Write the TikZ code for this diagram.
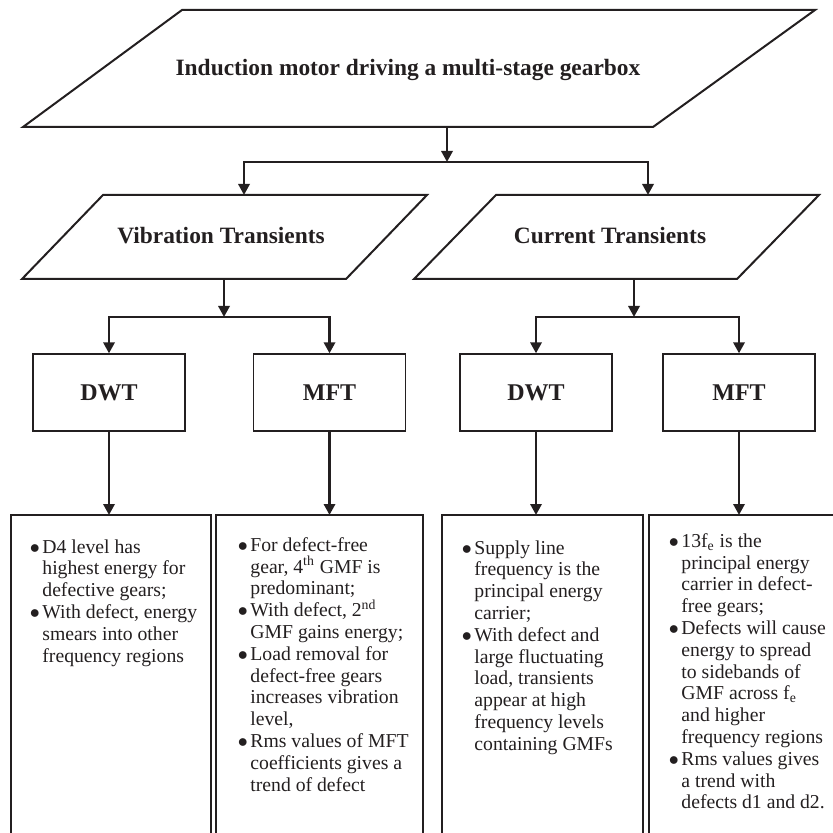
\documentclass[tikz,border=0pt]{standalone}
\usepackage{fontspec}
\setmainfont{Liberation Serif}
\usetikzlibrary{arrows.meta}
\definecolor{ink}{HTML}{231F20}
\newcommand\itm{\makebox[5.5pt][l]{\hspace*{-0.8pt}$\bullet$}}
\newcommand\cnt{\hspace*{5.5pt}}

\tikzset{
  heading/.style={text=ink, font=\fontsize{11.7}{13}\selectfont\bfseries},
  method/.style={draw=ink, line width=0.65pt, minimum width=76pt, minimum height=38.5pt,
    text=ink, font=\fontsize{12}{13}\selectfont\bfseries},
  notes/.style={anchor=north west, align=left, inner sep=0pt, text=ink,
    font=\fontsize{9.85}{10.9}\selectfont},
  frame/.style={draw=ink, line width=0.65pt},
  slant/.style={draw=ink, line width=1pt, line join=miter},
  flow/.style={draw=ink, line width=1.3pt, -{Triangle[length=5.5pt,width=5.6pt]}},
}

\begin{document}
\begin{tikzpicture}[x=0.5pt, y=-0.5pt]
  \useasboundingbox (0,0) rectangle (832,833);

  %%%%% input and transients %%%%%
  \draw[slant] (182,10) -- (815,10) -- (653,127) -- (23,127) -- cycle;
  \node[heading] (motor) at (408,70) {Induction motor driving a multi-stage gearbox};

  \draw[slant] (103,195) -- (427,195) -- (346,279) -- (22,279) -- cycle;
  \node[heading] (vib) at (221,236) {Vibration Transients};

  \draw[slant] (496,195) -- (819,195) -- (737,279) -- (414,279) -- cycle;
  \node[heading] (cur) at (610,236) {Current Transients};

  \coordinate (motorout) at (447,127);
  \coordinate (split) at (447,162);
  \coordinate (vibin) at (244,195);
  \coordinate (curin) at (648,195);
  \coordinate (vibout) at (224,279);
  \coordinate (vibsplit) at (224,317);
  \coordinate (curout) at (634,279);
  \coordinate (cursplit) at (634,317);
  \coordinate (ntop) at (0,515);

  %%%%% methods %%%%%
  \node[method] (dwtv) at (109,392.5) {DWT};
  \node[method] (mftv) at (329.5,392.5) {MFT};
  \node[method] (dwtc) at (536,392.5) {DWT};
  \node[method] (mftc) at (739,392.5) {MFT};

  \draw[flow] (motorout) -- (split);
  \draw[flow] (split) -| (vibin);
  \draw[flow] (split) -| (curin);
  \draw[flow] (vibout) -- (vibsplit);
  \draw[flow] (vibsplit) -| (dwtv.north);
  \draw[flow] (vibsplit) -| (mftv.north);
  \draw[flow] (curout) -- (cursplit);
  \draw[flow] (cursplit) -| (dwtc.north);
  \draw[flow] (cursplit) -| (mftc.north);

  %%%%% findings %%%%%
  \draw[frame] (11,840) -- (11,515) -- (211,515) -- (211,840);
  \draw[frame] (216,840) -- (216,515) -- (423,515) -- (423,840);
  \draw[frame] (442,840) -- (442,515) -- (643,515) -- (643,840);
  \draw[frame] (649,840) -- (649,515) -- (840,515);

  \foreach \m in {dwtv,mftv,dwtc,mftc}
    \draw[flow] (\m.south) -- (\m.south |- ntop);

  \node[notes] (notedwtv) at (31,539) {\itm D4 level has\\
    \cnt highest energy for\\ \cnt defective gears;\\
    \itm With defect, energy\\ \cnt smears into other\\ \cnt frequency regions};

  \node[notes] (notemftv) at (239,537) {\itm For defect-free\\
    \cnt gear, 4\textsuperscript{th} GMF is\\ \cnt predominant;\\
    \itm With defect, 2\textsuperscript{nd}\\ \cnt GMF gains energy;\\
    \itm Load removal for\\ \cnt defect-free gears\\ \cnt increases vibration\\ \cnt level,\\
    \itm Rms values of MFT\\ \cnt coefficients gives a\\ \cnt trend of defect};

  \node[notes] (notedwtc) at (463,540) {\itm Supply line\\
    \cnt frequency is the\\ \cnt principal energy\\ \cnt carrier;\\
    \itm With defect and\\ \cnt large fluctuating\\ \cnt load, transients\\
    \cnt appear at high\\ \cnt frequency levels\\ \cnt containing GMFs};

  \node[notes] (notemftc) at (670,533) {\itm 13f\textsubscript{e} is the\\
    \cnt principal energy\\ \cnt carrier in defect-\\ \cnt free gears;\\
    \itm Defects will cause\\ \cnt energy to spread\\ \cnt to sidebands of\\
    \cnt GMF across f\textsubscript{e}\\ \cnt and higher\\ \cnt frequency regions\\
    \itm Rms values gives\\ \cnt a trend with\\ \cnt defects d1 and d2.};
\end{tikzpicture}
\end{document}
